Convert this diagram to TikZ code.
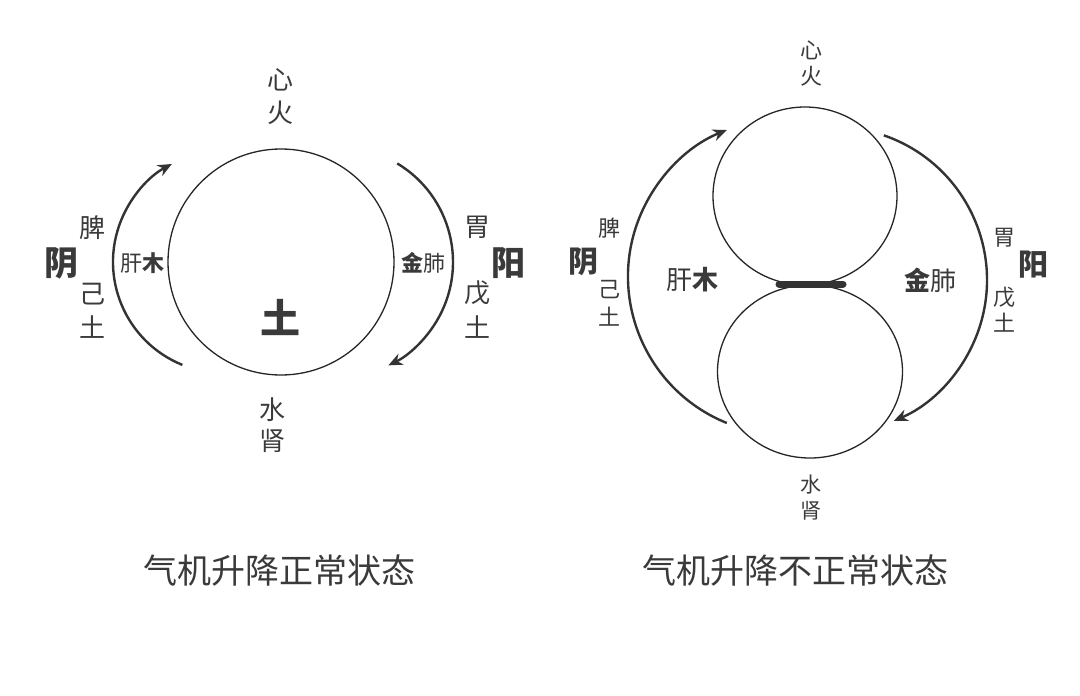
\documentclass[tikz,border=0pt]{standalone}
\usepackage{fontspec}
\setmainfont{Noto Sans CJK SC}
\usetikzlibrary{arrows.meta,shapes.geometric}
\definecolor{ink}{HTML}{333333}
\definecolor{txt}{HTML}{3A3A3A}
\tikzset{
  ring/.style={draw=black!85, line width=1.3pt},
  flow/.style={draw=ink, line width=2.4pt, -{Stealth[length=14pt,width=12pt]}},
  lbl/.style={text=txt, inner sep=0pt, anchor=center},
}
\newcommand{\fs}[1]{\fontsize{#1}{#1}\selectfont}
\begin{document}
\begin{tikzpicture}[x=1pt,y=-1pt]
\useasboundingbox[fill=white] (0,0) rectangle (1080,696);
% ---------- left diagram ----------
\node[ring, circle, minimum size=226pt, inner sep=0pt] (c1) at (281,262) {};
\coordinate (l1c) at (224,262);
\coordinate (r1c) at (338,262);
\draw[flow] ([shift={(112:111)}]l1c) arc[start angle=112, end angle=242, radius=111] coordinate (l1e);
\draw[flow] ([shift={(-59:115)}]r1c) arc[start angle=-59, end angle=64, radius=115] coordinate (r1e);
\node[lbl, font=\fs{26}] (xin1) at (280,80) {心};
\node[lbl, font=\fs{26}] (huo1) at (280,113) {火};
\node[lbl, font=\fs{26}] (shui1) at (272,410) {水};
\node[lbl, font=\fs{26}] (shen1) at (272,441) {肾};
\node[lbl, font=\fs{34}\bfseries] (yin1) at (62,263) {阴};
\node[lbl, font=\fs{26}] (pi1) at (92,228) {脾};
\node[lbl, font=\fs{26}] (ji1) at (92,294) {己};
\node[lbl, font=\fs{26}] (tu1a) at (92,327) {土};
\node[lbl, font=\fs{22}] (gan1) at (142,263) {肝{\bfseries 木}};
\node[lbl, font=\fs{22}] (jin1) at (423,263) {{\bfseries 金}肺};
\node[lbl, font=\fs{26}] (wei1) at (477,227) {胃};
\node[lbl, font=\fs{26}] (wu1) at (477,293) {戊};
\node[lbl, font=\fs{26}] (tu1b) at (477,327) {土};
\node[lbl, font=\fs{34}\bfseries] (yang1) at (508,263) {阳};
\node[lbl, font=\fs{40}\bfseries] (tu1) at (280,317) {土};
\node[lbl, font=\fs{34}] (title1) at (279,571) {气机升降正常状态};
% ---------- right diagram ----------
\node[ring, ellipse, minimum width=184pt, minimum height=178pt, inner sep=0pt] (up) at (805,196) {};
\node[ring, ellipse, minimum width=185pt, minimum height=173pt, inner sep=0pt] (dn) at (810,371.5) {};
\coordinate (barL) at (779,284);
\coordinate (barR) at (843,284);
\draw[draw=ink, line width=7pt, line cap=round] (barL) -- (barR);
\coordinate (l2c) at (786,276.5);
\coordinate (r2c) at (834,280);
\draw[flow] ([shift={(112:158)}]l2c) arc[start angle=112, end angle=248, radius=158] coordinate (l2e);
\draw[flow] ([shift={(-71:153)}]r2c) arc[start angle=-71, end angle=67, radius=153] coordinate (r2e);
\node[lbl, font=\fs{22}] (xin2) at (811,50) {心};
\node[lbl, font=\fs{22}] (huo2) at (811,76) {火};
\node[lbl, font=\fs{21}] (shui2) at (811,485) {水};
\node[lbl, font=\fs{21}] (shen2) at (811,511) {肾};
\node[lbl, font=\fs{30}\bfseries] (yin2) at (583,262) {阴};
\node[lbl, font=\fs{22}] (pi2) at (609,228) {脾};
\node[lbl, font=\fs{22}] (ji2) at (609,290) {己};
\node[lbl, font=\fs{22}] (tu2a) at (609,317) {土};
\node[lbl, font=\fs{26}] (gan2) at (692,280) {肝{\bfseries 木}};
\node[lbl, font=\fs{26}] (jin2) at (930,280) {{\bfseries 金}肺};
\node[lbl, font=\fs{22}] (wei2) at (1004,238) {胃};
\node[lbl, font=\fs{22}] (wu2) at (1004,297) {戊};
\node[lbl, font=\fs{22}] (tu2b) at (1004,323) {土};
\node[lbl, font=\fs{30}\bfseries] (yang2) at (1033,265) {阳};
\node[lbl, font=\fs{34}] (title2) at (795,571) {气机升降不正常状态};
\end{tikzpicture}
\end{document}
